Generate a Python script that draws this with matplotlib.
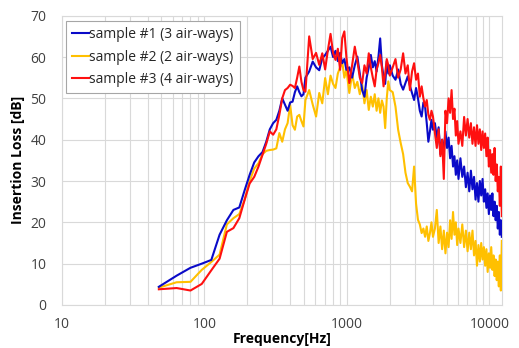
import matplotlib
matplotlib.use('Agg')
import matplotlib.pyplot as plt
from matplotlib.ticker import FixedLocator, LogLocator, FuncFormatter, NullFormatter

plt.rcParams['font.family'] = ['Open Sans', 'DejaVu Sans']

# frequency bins [Hz]
freq = [48, 64, 80, 96, 112, 128, 144, 160, 176, 192, 208, 224, 240, 256, 272,
        288, 304, 320, 336, 352, 368, 384, 400, 416, 432, 448, 464, 480, 496, 512,
        544, 576, 608, 640, 672, 704, 736, 768, 800, 832, 864, 896, 928, 960, 992,
        1040, 1088, 1136, 1184, 1232, 1280, 1328, 1376, 1424, 1472, 1520, 1568, 1616,
        1664, 1712, 1760, 1808, 1856, 1904, 1952, 2000,
        2096, 2192, 2288, 2384, 2480, 2576, 2672, 2768, 2864, 2960, 3056, 3152, 3248,
        3344, 3440, 3536, 3632, 3728, 3824, 3920, 4016,
        4144, 4272, 4400, 4528, 4656, 4784, 4912, 5040, 5168, 5296, 5424, 5552, 5680,
        5808, 5936, 6064, 6256, 6448, 6640, 6832, 7024, 7216, 7408, 7600, 7792, 7984,
        8176, 8368, 8560, 8752, 8944, 9136, 9328, 9520, 9712, 9904, 10096, 10288,
        10480, 10672, 10864, 11056, 11248, 11440, 11632, 11824, 12016, 12208]

# sample #1 (3 air-ways)
il_s1 = [4.4, 7.1, 9.0, 10.0, 10.9, 17.0, 20.5, 23.0, 23.6, 27.8, 31.5, 34.5, 36.0, 37.0, 39.5,
         42.5, 44.0, 44.8, 47.0, 50.0, 48.5, 47.0, 49.0, 49.2, 51.5, 52.9, 51.5, 50.5, 51.0, 55.0,
         56.5, 58.9, 57.5, 56.8, 59.7, 60.5, 61.5, 62.5, 60.0, 61.5, 59.0, 61.0, 58.5, 59.5, 56.9,
         57.5, 55.0, 58.0, 60.1, 56.0, 52.0, 50.4, 55.0, 57.5, 60.5, 57.5, 59.0, 56.5,
         60.0, 64.5, 58.0, 55.3, 53.5, 59.0, 56.0, 58.0,
         55.5, 54.5, 57.0, 53.5, 52.1, 53.7, 55.3, 53.0, 51.3, 49.6, 52.5, 50.0, 47.0,
         45.6, 49.0, 48.0, 44.0, 39.5, 42.0, 44.8, 42.4,
         44.0, 40.5, 43.0, 36.5, 40.0, 37.0, 42.0, 38.0, 40.5, 35.5, 38.5, 33.5, 36.0,
         31.5, 35.0, 30.5, 35.5, 31.0, 33.5, 28.5, 32.0, 27.5, 32.5, 28.0, 31.0, 25.5,
         29.5, 25.0, 30.0, 26.5, 30.5, 25.0, 28.0, 23.5, 27.0, 22.0, 26.5, 23.0,
         27.0, 21.5, 25.0, 20.5, 24.0, 18.5, 22.5, 17.0, 20.5, 16.5]

# sample #2 (2 air-ways)
il_s2 = [4.2, 5.5, 5.6, 8.5, 10.4, 12.2, 19.5, 21.0, 22.0, 25.5, 30.0, 33.0, 34.3, 36.5, 37.3,
         37.5, 37.6, 37.9, 41.6, 39.5, 42.5, 44.0, 48.4, 43.5, 42.4, 45.6, 46.0, 44.5, 43.2, 49.6,
         52.0, 48.5, 45.6, 51.3, 48.8, 54.9, 51.0, 55.5, 53.5, 52.5, 56.0, 57.5, 58.8, 55.0, 57.0,
         51.3, 56.0, 52.5, 54.0, 51.0, 53.5, 48.8, 52.0, 47.2, 50.4, 48.0, 51.0, 47.0,
         50.0, 46.5, 49.5, 48.0, 42.8, 50.0, 54.1, 52.0,
         51.5, 48.0, 42.4, 39.2, 36.5, 32.0, 29.5, 28.6, 27.5, 33.5, 24.5, 20.6, 19.5,
         17.4, 18.5, 16.5, 19.0, 15.5, 17.4, 20.0, 16.5,
         18.5, 23.0, 15.0, 19.0, 13.5, 18.0, 12.5, 17.5, 14.0, 20.5, 16.0, 22.5, 17.0,
         20.0, 14.5, 18.5, 15.0, 19.5, 14.0, 18.0, 13.0, 17.5, 13.5, 18.0, 12.0, 15.5,
         9.5, 14.5, 10.5, 15.0, 11.0, 14.0, 9.5, 13.5, 8.0, 12.5, 9.0, 14.0,
         8.5, 12.0, 7.0, 11.0, 6.0, 10.5, 4.5, 12.0, 3.5, 15.5]

# sample #3 (4 air-ways)
il_s3 = [3.8, 4.1, 3.5, 5.1, 8.4, 11.2, 17.7, 18.6, 21.0, 25.5, 29.4, 31.0, 33.5, 36.3, 39.0,
         42.0, 41.2, 42.5, 46.0, 50.0, 52.0, 52.5, 53.3, 53.0, 52.5, 55.0, 57.7, 54.0, 52.0, 51.6,
         65.0, 59.5, 61.0, 58.1, 60.9, 57.0, 61.7, 65.6, 61.0, 59.3, 62.0, 56.9, 64.6, 66.2, 60.0,
         53.7, 58.0, 62.5, 59.0, 55.0, 53.7, 58.0, 56.0, 60.9, 57.5, 55.0, 52.9, 57.0,
         58.5, 60.5, 57.5, 52.9, 56.0, 59.5, 58.0, 55.5,
         57.5, 59.5, 55.0, 57.0, 60.9, 56.0, 58.0, 52.0, 56.5, 58.5, 54.5, 56.0, 50.4,
         52.9, 50.0, 48.0, 49.6, 46.0, 44.8, 47.0, 45.6,
         41.6, 38.0, 42.5, 36.0, 40.0, 30.5, 47.0, 44.0, 50.0, 46.5, 52.0, 45.0, 47.5,
         41.0, 44.5, 39.0, 42.0, 38.5, 45.5, 41.0, 45.0, 40.5, 44.0, 39.0, 43.0, 38.5,
         43.5, 39.0, 42.5, 37.5, 42.0, 38.0, 41.5, 36.0, 40.5, 33.5, 37.5, 32.0,
         36.5, 31.5, 38.0, 30.0, 34.0, 27.5, 31.0, 24.0, 33.5, 21.5]

labels = ['sample #1 (3 air-ways)', 'sample #2 (2 air-ways)', 'sample #3 (4 air-ways)']
colors = ['#0A0AC8', '#FFC000', '#FF1010']

fig = plt.figure(figsize=(5.19, 3.48), dpi=100)
ax = fig.add_axes([0.1189, 0.1236, 0.8489, 0.8313])

ax.plot(freq, il_s1, color=colors[0], lw=1.5, label=labels[0], zorder=3.1)
ax.plot(freq, il_s2, color=colors[1], lw=1.5, label=labels[1], zorder=3.0)
ax.plot(freq, il_s3, color=colors[2], lw=1.5, label=labels[2], zorder=3.2)

ax.set_xscale('log')
ax.set_xlim(10, 12300)
ax.set_ylim(0, 70)
ax.set_yticks(range(0, 71, 10))
ax.xaxis.set_major_locator(FixedLocator([10, 100, 1000, 10000]))
ax.xaxis.set_major_formatter(FuncFormatter(lambda v, p: f'{v:g}'))
ax.xaxis.set_minor_locator(LogLocator(base=10, subs=range(2, 10), numticks=20))
ax.xaxis.set_minor_formatter(NullFormatter())

grid_c = '#D9D9D9'
ax.grid(which='both', axis='x', color=grid_c, lw=0.8)
ax.grid(which='major', axis='y', color=grid_c, lw=0.8)
ax.set_axisbelow(True)
for s in ax.spines.values():
    s.set_color(grid_c)
    s.set_linewidth(0.8)

ax.tick_params(which='both', length=0, labelsize=10, colors='#404040')
ax.tick_params(axis='y', pad=11)
ax.tick_params(axis='x', pad=9)

ax.set_xlabel('Frequency[Hz]', fontsize=10, fontweight='bold', labelpad=0)
ax.set_ylabel('Insertion Loss [dB]', fontsize=10, fontweight='bold', labelpad=4)

leg = ax.legend(loc='upper left', bbox_to_anchor=(0.009, 0.983), borderaxespad=0,
                fontsize=10, handlelength=1.2, handletextpad=0.05, labelspacing=0.55,
                fancybox=False, framealpha=1, edgecolor='#A6A6A6', borderpad=0.45)
leg.get_frame().set_linewidth(0.8)
for t in leg.get_texts():
    t.set_color('#262626')

fig.savefig('out.png', dpi=100)
